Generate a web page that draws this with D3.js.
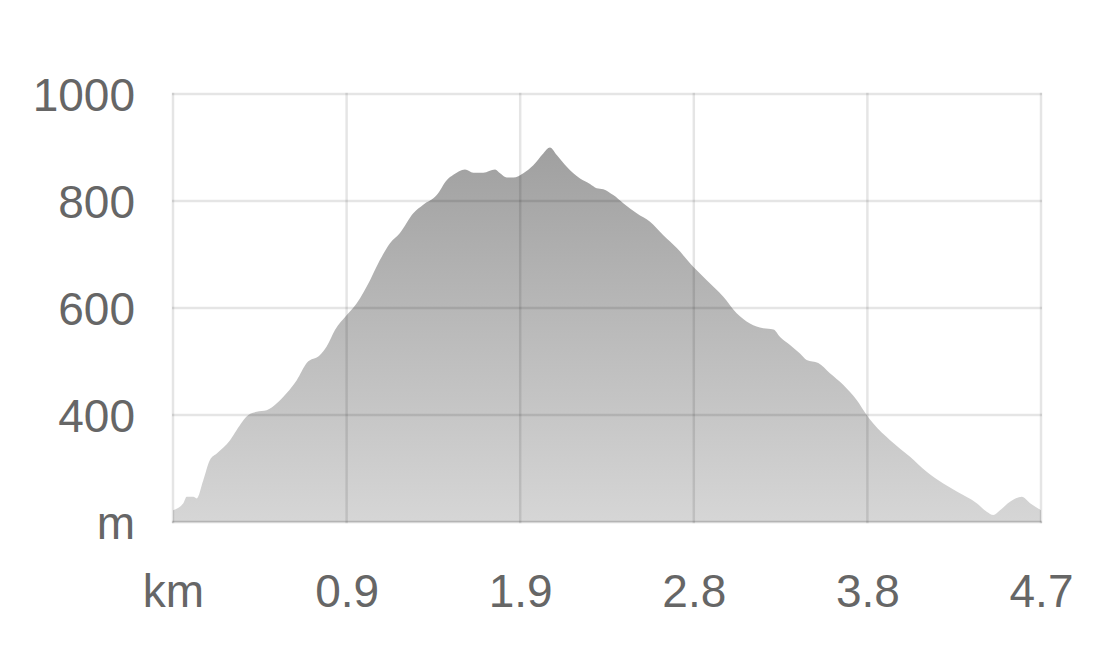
<!DOCTYPE html>
<html>
<head>
<meta charset="utf-8">
<script src="https://cdn.jsdelivr.net/npm/d3@7"></script>
<style>
  html, body { margin: 0; padding: 0; background: #fff; }
  svg { display: block; }
  text { font-family: "Liberation Sans", Arial, Helvetica, sans-serif; fill: #666; }
</style>
</head>
<body>
<svg id="chart" width="1098" height="648"></svg>
<script>
// Distance along the route (km)
const distanceKm = [0.00, 0.056, 0.074, 0.110, 0.128, 0.164, 0.200, 0.237, 0.309, 0.345,
  0.408, 0.453, 0.507, 0.562, 0.616, 0.670, 0.724, 0.796, 0.832, 0.877,
  0.941, 0.995, 1.067, 1.121, 1.175, 1.229, 1.301, 1.355, 1.428, 1.482,
  1.518, 1.581, 1.626, 1.680, 1.744, 1.771, 1.807, 1.843, 1.897, 1.951,
  2.005, 2.041, 2.078, 2.132, 2.204, 2.258, 2.294, 2.330, 2.384, 2.438,
  2.511, 2.583, 2.655, 2.728, 2.817, 2.890, 2.980, 3.052, 3.124, 3.196,
  3.251, 3.287, 3.341, 3.395, 3.431, 3.494, 3.557, 3.630, 3.702, 3.756,
  3.792, 3.883, 3.991, 4.081, 4.171, 4.244, 4.352, 4.406, 4.442, 4.478,
  4.532, 4.596, 4.641, 4.700];
// Elevation (m)
const elevationM = [222, 235, 247, 247, 244, 278, 316, 328, 353, 372,
  400, 406, 409, 422, 441, 465, 497, 512, 528, 559,
  587, 609, 652, 690, 721, 740, 777, 793, 811, 839,
  849, 859, 853, 853, 859, 852, 844, 844, 852, 867,
  889, 900, 886, 864, 842, 832, 824, 822, 811, 796,
  777, 761, 736, 712, 677, 652, 621, 590, 571, 562,
  560, 546, 531, 515, 503, 497, 478, 456, 428, 400,
  384, 353, 322, 294, 272, 257, 235, 219, 213, 222,
  238, 247, 235, 222];
// Axis ticks and labels
const xTicks = [0, 0.94, 1.88, 2.82, 3.76, 4.7];
const xTickLabels = ["km", "0.9", "1.9", "2.8", "3.8", "4.7"];
const yTicks = [200, 400, 600, 800, 1000];
const yTickLabels = ["m", "400", "600", "800", "1000"];

const data = distanceKm.map((d, i) => ({ d, e: elevationM[i] }));

const svg = d3.select("#chart");
const margin = { left: 173, right: 57, top: 94, bottom: 126 };
const W = 1098, H = 648;

const x = d3.scaleLinear().domain([0, 4.7]).range([margin.left, W - margin.right]);
const y = d3.scaleLinear().domain([200, 1000]).range([H - margin.bottom, margin.top]);

// gradient
const defs = svg.append("defs");
const grad = defs.append("linearGradient")
  .attr("id", "areaGrad")
  .attr("gradientUnits", "userSpaceOnUse")
  .attr("x1", 0).attr("x2", 0)
  .attr("y1", y(1000)).attr("y2", y(200));
grad.append("stop").attr("offset", "0%").attr("stop-color", "#989898");
grad.append("stop").attr("offset", "100%").attr("stop-color", "#d6d6d6");

// area
const area = d3.area()
  .x(d => x(d.d))
  .y0(y(200))
  .y1(d => y(d.e))
  .curve(d3.curveMonotoneX);

svg.append("path")
  .datum(data)
  .attr("d", area)
  .attr("fill", "url(#areaGrad)");

// grid (drawn over the area, translucent)
const grid = svg.append("g").attr("class", "grid");
grid.selectAll("line.h")
  .data(yTicks)
  .join("line")
  .attr("class", "h")
  .attr("x1", x(0) - 1).attr("x2", x(4.7) + 1)
  .attr("y1", d => y(d)).attr("y2", d => y(d))
  .attr("stroke", "rgba(0,0,0,0.1)")
  .attr("stroke-width", 2.5);
grid.selectAll("line.v")
  .data(xTicks)
  .join("line")
  .attr("class", "v")
  .attr("x1", d => x(d)).attr("x2", d => x(d))
  .attr("y1", y(1000) - 1.2).attr("y2", y(200) + 1.2)
  .attr("stroke", "rgba(0,0,0,0.1)")
  .attr("stroke-width", 2.5);
// bottom axis line slightly stronger
svg.append("line")
  .attr("x1", x(0) - 1.2).attr("x2", x(4.7) + 1.2)
  .attr("y1", y(200)).attr("y2", y(200))
  .attr("stroke", "rgba(0,0,0,0.06)")
  .attr("stroke-width", 2.5);

// Y labels
const yAxis = d3.axisLeft(y).tickValues(yTicks)
  .tickFormat((d, i) => yTickLabels[i]).tickSize(0).tickPadding(38);
const gy = svg.append("g").attr("transform", `translate(${x(0)},0)`).call(yAxis);
gy.select(".domain").remove();
gy.selectAll("text")
  .attr("font-size", 46)
  .attr("fill", "#666")
  .attr("font-family", "Liberation Sans, Arial, sans-serif")
  .attr("dy", "0.36em");

// X labels
const xAxis = d3.axisBottom(x).tickValues(xTicks)
  .tickFormat((d, i) => xTickLabels[i]).tickSize(0).tickPadding(52);
const gx = svg.append("g").attr("transform", `translate(0,${y(200)})`).call(xAxis);
gx.select(".domain").remove();
gx.selectAll("text")
  .attr("font-size", 46)
  .attr("fill", "#666")
  .attr("font-family", "Liberation Sans, Arial, sans-serif");
</script>
</body>
</html>
